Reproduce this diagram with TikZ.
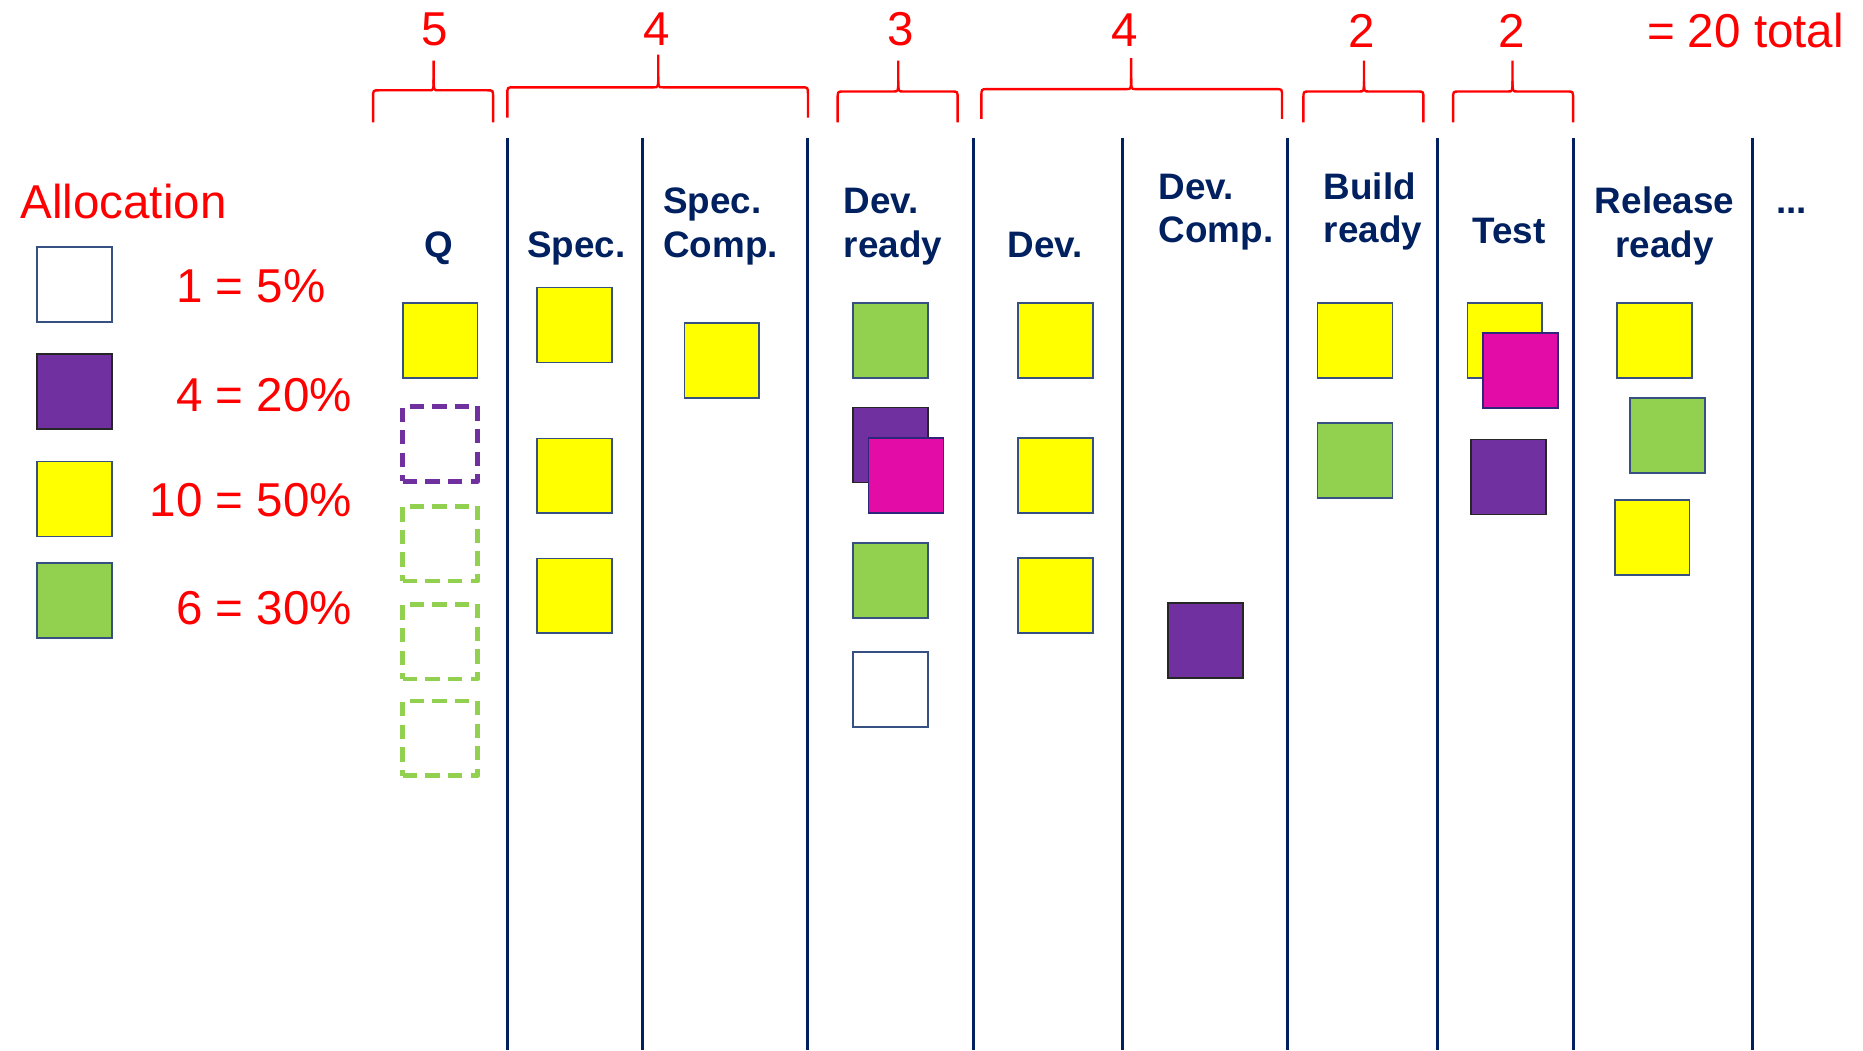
\documentclass[tikz,border=0pt]{standalone}
\usepackage{fontspec}
\setmainfont{Liberation Sans}
\definecolor{navy}{RGB}{0,32,96}
\definecolor{cardedge}{RGB}{55,80,130}
\definecolor{cyellow}{RGB}{255,255,0}
\definecolor{cgreen}{RGB}{146,208,80}
\definecolor{cpurple}{RGB}{112,48,160}
\definecolor{cmagenta}{RGB}{227,12,166}
\definecolor{cred}{RGB}{255,0,0}
\newcommand\tlineL[2]{\vtop{\hbox{#1}\hbox{#2}}}
\newcommand\tlineC[2]{\vtop{\halign{\hfil##\hfil\cr#1\cr#2\cr}}}
\newcommand\kbrace[6]{%
  \draw[bracestyle] (#1,#4) -- (#1,#5+6) .. controls (#1,#5) .. (#1+5,#5) -- (#3-4,#5) .. controls (#3,#5) .. (#3,#5-9) -- (#3,#6);
  \draw[bracestyle] (#2,#4) -- (#2,#5+6) .. controls (#2,#5) .. (#2-5,#5) -- (#3+4,#5) .. controls (#3,#5) .. (#3,#5-9);}
\begin{document}
\begin{tikzpicture}[x=1pt,y=-1pt,
  card/.style={draw=cardedge, line width=1.4pt, minimum width=63pt, minimum height=63pt, inner sep=0pt, outer sep=0pt},
  yel/.style={card, fill=cyellow},
  grn/.style={card, fill=cgreen},
  pur/.style={card, fill=cpurple, draw=black!85},
  mag/.style={card, fill=cmagenta, draw=cpurple!40!navy},
  wht/.style={card, fill=white},
  slot/.style={minimum width=63pt, minimum height=63pt, inner sep=0pt, line width=4pt, dash pattern=on 12pt off 7pt, line join=round},
  hdr/.style={text=navy, font=\fontsize{31}{37}\selectfont\bfseries, inner sep=0pt},
  redtxt/.style={text=cred, font=\fontsize{40}{46}\selectfont, inner sep=0pt},
  lane/.style={draw=navy, line width=2.5pt},
  bracestyle/.style={draw=cred, line width=2pt}]
\useasboundingbox (0,0) rectangle (1568,884);

% lane separators
\foreach \lx in {427,541,680,819,945,1084,1210,1324,1475}
  \draw[lane] (\lx,116) -- (\lx,884);

% braces
\kbrace{314}{415}{365}{103}{76}{51}
\kbrace{427}{680}{554}{99}{73.5}{46}
\kbrace{705}{806}{756}{103}{77}{51}
\kbrace{826}{1079}{952}{100}{75}{49}
\kbrace{1097}{1198}{1148}{103}{77}{51}
\kbrace{1223}{1324}{1273}{103}{77}{51}

% WIP limits
\node[redtxt, anchor=base] (n1) at (366,38) {5};
\node[redtxt, anchor=base] (n2) at (553,38) {4};
\node[redtxt, anchor=base] (n3) at (758,38) {3};
\node[redtxt, anchor=base] (n4) at (947,39) {4};
\node[redtxt, anchor=base] (n5) at (1146,40) {2};
\node[redtxt, anchor=base] (n6) at (1272,40) {2};
\node[redtxt, anchor=base west] (tot) at (1386,40) {= 20 total};

% legend
\node[redtxt, anchor=base west] (alloc) at (17,184) {Allocation};
\node[wht] (lw) at (62.5,239.5) {};
\node[pur] (lp) at (62.5,329.5) {};
\node[yel] (ly) at (62.5,420) {};
\node[grn] (lg) at (62.5,505.5) {};
\node[redtxt, anchor=base west] (tw) at (126,255) {\phantom{1}1 = 5\%};
\node[redtxt, anchor=base west] (tp) at (126,346) {\phantom{1}4 = 20\%};
\node[redtxt, anchor=base west] (ty) at (126,435) {10 = 50\%};
\node[redtxt, anchor=base west] (tg) at (126,526) {\phantom{1}6 = 30\%};

% headers
\node[hdr, anchor=base] (hq) at (369,217) {Q};
\node[hdr, anchor=base] (hs) at (485,217) {Spec.};
\node[hdr, anchor=base west] (hsc) at (558,180) {\tlineL{Spec.}{Comp.}};
\node[hdr, anchor=base west] (hdr1) at (710,180) {\tlineL{Dev.}{ready}};
\node[hdr, anchor=base] (hd) at (879.5,217) {Dev.};
\node[hdr, anchor=base west] (hdc) at (975,167.5) {\tlineL{Dev.}{Comp.}};
\node[hdr, anchor=base west] (hbr) at (1114,167.5) {\tlineL{Build}{ready}};
\node[hdr, anchor=base] (ht) at (1270,205) {Test};
\node[hdr, anchor=base] (hrr) at (1401,180) {\tlineC{Release}{ready}};
\node[hdr, anchor=base] (hdots) at (1508,180) {...};

% Q column
\node[yel] (q1) at (370.5,286.5) {};
\node[slot, draw=cpurple] (q2) at (370.5,373.5) {};
\node[slot, draw=cgreen] (q3) at (370.5,457.5) {};
\node[slot, draw=cgreen] (q4) at (370.5,540) {};
\node[slot, draw=cgreen] (q5) at (370.5,621.5) {};

% Spec.
\node[yel] (s1) at (483.5,273.5) {};
\node[yel] (s2) at (483.5,400.5) {};
\node[yel] (s3) at (483.5,501.5) {};

% Spec. Comp.
\node[yel] (sc1) at (607.5,303.5) {};

% Dev. ready
\node[grn] (dr1) at (749.5,286.5) {};
\node[pur] (dr2) at (749.5,374.5) {};
\node[mag] (dr3) at (762.5,400) {};
\node[grn] (dr4) at (749.5,488.5) {};
\node[wht] (dr5) at (749.5,580.5) {};

% Dev.
\node[yel] (d1) at (888.5,286.5) {};
\node[yel] (d2) at (888.5,400) {};
\node[yel] (d3) at (888.5,501) {};

% Dev. Comp.
\node[pur] (dc1) at (1014.5,539) {};

% Build ready
\node[yel] (b1) at (1140.5,286.5) {};
\node[grn] (b2) at (1140.5,387.5) {};

% Test
\node[yel] (t1) at (1266.5,286.5) {};
\node[mag] (t2) at (1279.5,312) {};
\node[pur] (t3) at (1269.5,401.5) {};

% Release ready
\node[yel] (r1) at (1392.5,286.5) {};
\node[grn] (r2) at (1403.5,366.5) {};
\node[yel] (r3) at (1390.5,452.5) {};
\end{tikzpicture}
\end{document}
